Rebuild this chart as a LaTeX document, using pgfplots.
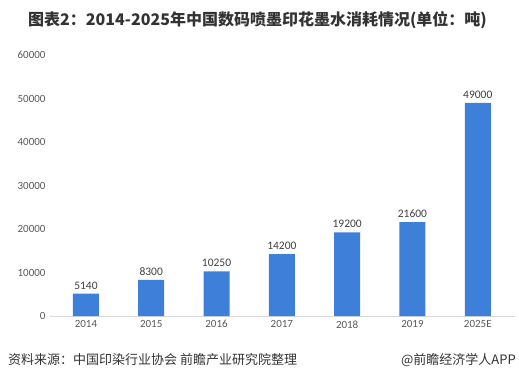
\documentclass[border=0pt]{standalone}
\usepackage{fontspec}
\usepackage{pgfplots}
\pgfplotsset{compat=1.18}
\setmainfont{Carlito}
\newfontfamily\cjk{Noto Sans CJK SC}
\definecolor{barblue}{RGB}{62,127,218}
\definecolor{tickgray}{RGB}{89,89,89}
\definecolor{titlegray}{RGB}{51,51,51}
\begin{document}
\begin{tikzpicture}[x=1bp,y=1bp]
\path[use as bounding box] (0,0) rectangle (519,382);
\begin{axis}[
  at={(50bp,66bp)}, anchor=south west,
  scale only axis, width=465bp, height=261bp,
  xmin=-0.55, xmax=6.57, ymin=0, ymax=60000,
  axis x line*=bottom, axis y line*=left,
  x axis line style={draw=black!15},
  y axis line style={draw=none},
  major tick length=0pt,
  xtick={0,...,6},
  xticklabels={2014,2015,2016,2017,2018,2019,2025E},
  ytick={0,10000,...,60000},
  scaled y ticks=false,
  /pgf/number format/1000 sep={},
  /pgf/number format/assume math mode=true,
  tick label style={font=\fontsize{11bp}{13bp}\selectfont, text=tickgray},
  yticklabel style={xshift=-1bp},
  xticklabel style={yshift=-1bp},
]
\addplot[ybar, bar width=26bp, fill=barblue, draw=none,
  nodes near coords,
  every node near coord/.append style={font=\fontsize{11.5bp}{13bp}\selectfont, text=black!75, yshift=1bp}]
  coordinates {(0,5140) (1,8300) (2,10250) (3,14200) (4,19200) (5,21600) (6,49000)};
\end{axis}
\node[anchor=west, inner sep=0, text=titlegray] at (28,362)
  {\cjk\bfseries\fontsize{16bp}{18bp}\selectfont 图表2：2014-2025年中国数码喷墨印花墨水消耗情况(单位：吨)};
\node[anchor=west, inner sep=0, text=titlegray] at (8,22)
  {\cjk\fontsize{13bp}{15bp}\selectfont 资料来源：中国印染行业协会 前瞻产业研究院整理};
\node[anchor=east, inner sep=0, text=titlegray] at (516,22)
  {\cjk\fontsize{13bp}{15bp}\selectfont @前瞻经济学人APP};
\end{tikzpicture}
\end{document}
